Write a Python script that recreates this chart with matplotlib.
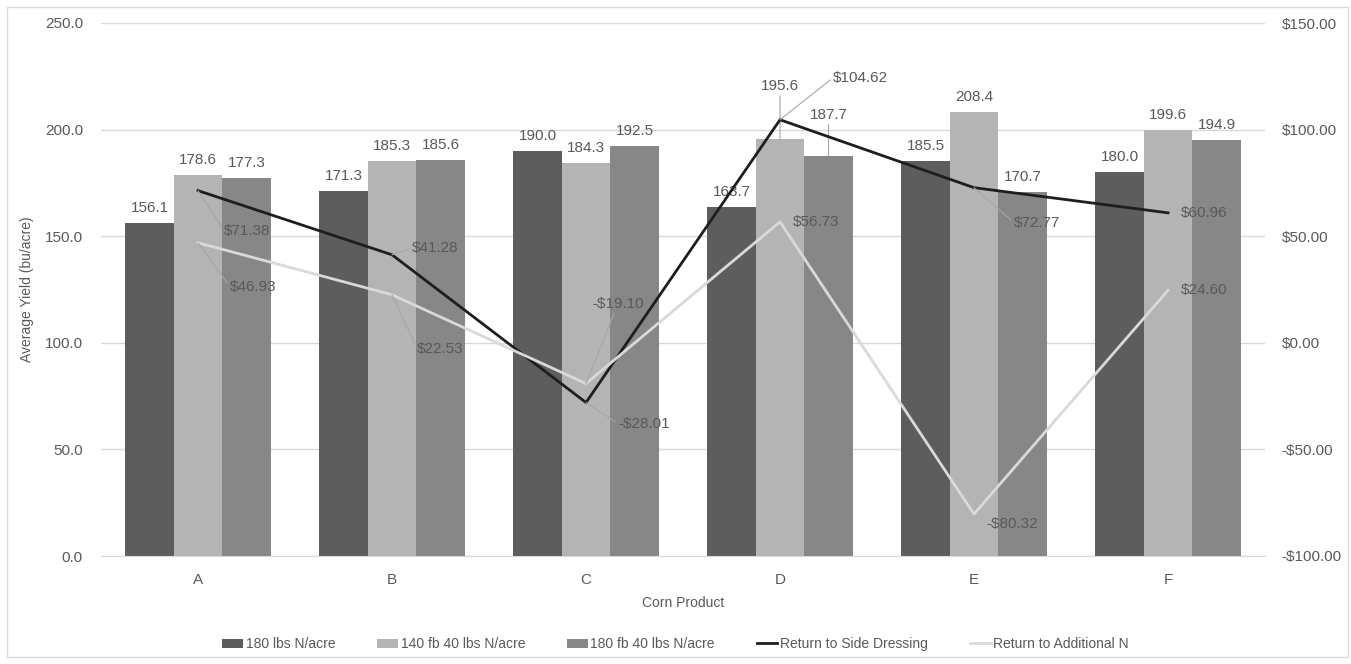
import matplotlib
matplotlib.use('Agg')
import matplotlib.pyplot as plt
import numpy as np
from matplotlib.patches import Rectangle

plt.rcParams['font.family'] = ['Liberation Sans Narrow', 'Liberation Sans', 'DejaVu Sans']

products = ['A', 'B', 'C', 'D', 'E', 'F']
yield_180 = [156.1, 171.3, 190.0, 163.7, 185.5, 180.0]
yield_140fb40 = [178.6, 185.3, 184.3, 195.6, 208.4, 199.6]
yield_180fb40 = [177.3, 185.6, 192.5, 187.7, 170.7, 194.9]
return_side = [71.38, 41.28, -28.01, 104.62, 72.77, 60.96]
return_addl = [46.93, 22.53, -19.10, 56.73, -80.32, 24.60]

txt = '#595959'
grid = '#d9d9d9'
lead = '#a6a6a6'
fs = 11

fig = plt.figure(figsize=(13.51, 6.64), dpi=100)
ax = fig.add_axes([101 / 1351, 1 - 556 / 664, 1164 / 1351, 533 / 664])
ax2 = ax.twinx()

x = np.arange(len(products))
w = 0.25
b1 = ax.bar(x - w, yield_180, w, color='#5d5d5d', label='180 lbs N/acre', zorder=2)
b2 = ax.bar(x, yield_140fb40, w, color='#b4b4b4', label='140 fb 40 lbs N/acre', zorder=2)
b3 = ax.bar(x + w, yield_180fb40, w, color='#878787', label='180 fb 40 lbs N/acre', zorder=2)

# bar value labels (D's two right bars are lifted with a leader line)
lifted = {(1, 3): 46, (2, 3): 34}
for s, vals in enumerate([yield_180, yield_140fb40, yield_180fb40]):
    for i, v in enumerate(vals):
        xpos = x[i] + (s - 1) * w
        if (s, i) in lifted:
            ax.annotate('%.1f' % v, (xpos, v), xytext=(0, lifted[(s, i)]), textcoords='offset pixels',
                        ha='center', va='bottom', fontsize=fs, color=txt, zorder=3,
                        arrowprops=dict(arrowstyle='-', color=lead, lw=0.8,
                                        shrinkA=0, shrinkB=0, relpos=(0.5, 0)))
        else:
            ax.annotate('%.1f' % v, (xpos, v), xytext=(0, 15), textcoords='offset pixels',
                        ha='center', va='center', fontsize=fs, color=txt, zorder=3)

ax.set_ylim(0, 250)
ax.set_xlim(-0.5, 5.5)
ax.set_yticks(np.arange(0, 251, 50))
ax.set_yticklabels(['%.1f' % t for t in np.arange(0, 251, 50)])
ax.yaxis.grid(True, color=grid, lw=1, zorder=0)
ax.set_axisbelow(True)
ax.set_xticks(x)
ax.set_xticklabels(products)
ax.tick_params(axis='both', length=0, colors=txt, labelsize=fs)
ax.tick_params(axis='y', pad=13)
ax.tick_params(axis='x', pad=12)
for sp in ['top', 'left', 'right']:
    ax.spines[sp].set_visible(False)
ax.spines['bottom'].set_color(grid)
ax.set_ylabel('Average Yield (bu/acre)', fontsize=10, color=txt)
ax.yaxis.set_label_coords((34 - 101) / 1164, 0.5)
ax.set_xlabel('Corn Product', fontsize=10, color=txt, labelpad=7)

l1, = ax2.plot(x, return_side, color='#1e1e1e', lw=2, label='Return to Side Dressing', zorder=4)
l2, = ax2.plot(x, return_addl, color='#d9d9d9', lw=2, label='Return to Additional N', zorder=4)
ax2.set_ylim(-100, 150)
ax2.set_yticks(np.arange(-100, 151, 50))
ax2.set_yticklabels([('-$%.2f' % -t) if t < 0 else ('$%.2f' % t) for t in np.arange(-100, 151, 50)])
ax2.tick_params(axis='y', length=0, colors=txt, labelsize=fs, pad=12)
for sp in ax2.spines.values():
    sp.set_visible(False)


def money(v):
    return ('-$%.2f' % -v) if v < 0 else ('$%.2f' % v)


# offsets in pixels (dx, dy), whether to draw a leader, leader attach point on label
side_off = [(26, -40, True, (0, 0.5)), (20, 7, True, (0, 0.5)), (32, -21, True, (0, 0.5)),
            (53, 42, True, (0, 0.5)), (40, -35, True, (0, 0.5)), (13, 0, False, None)]
addl_off = [(32, -44, True, (0, 0.5)), (25, -54, True, (0, 0.5)), (6, 80, True, (0.45, 0)),
            (13, 0, False, None), (12, -10, False, None), (13, 0, False, None)]
for vals, offs in [(return_side, side_off), (return_addl, addl_off)]:
    for i, v in enumerate(vals):
        dx, dy, leader, rp = offs[i]
        kw = {}
        if leader:
            kw['arrowprops'] = dict(arrowstyle='-', color=lead, lw=0.8, shrinkA=0, shrinkB=0, relpos=rp)
        ax2.annotate(money(v), (x[i], v), xytext=(dx, dy), textcoords='offset pixels',
                     ha='left', va='center', fontsize=fs, color=txt, zorder=5, **kw)

fig.legend([b1, b2, b3, l1, l2],
           ['180 lbs N/acre', '140 fb 40 lbs N/acre', '180 fb 40 lbs N/acre',
            'Return to Side Dressing', 'Return to Additional N'],
           loc='center', bbox_to_anchor=(0.5, 1 - 644 / 664), ncol=5, frameon=False,
           fontsize=10, labelcolor=txt, handlelength=1.5, handleheight=0.6,
           handletextpad=0.2, columnspacing=3.0)

fig.add_artist(Rectangle((7 / 1351, 7 / 664), 1341 / 1351, 650 / 664, transform=fig.transFigure,
                         fill=False, ec=grid, lw=1))

fig.savefig('out.png', dpi=100)
